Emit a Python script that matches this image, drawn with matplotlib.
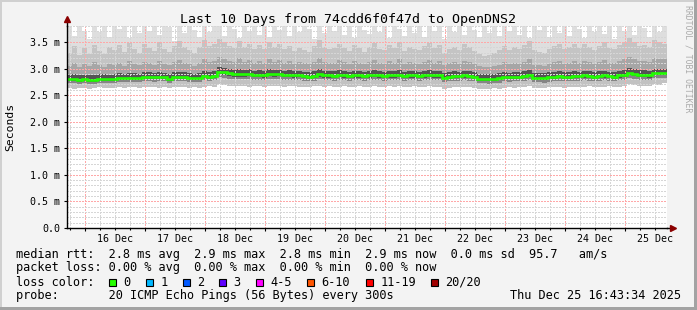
import datetime
import matplotlib
matplotlib.use("Agg")
import matplotlib.pyplot as plt
import matplotlib.dates as mdates
from matplotlib.ticker import MultipleLocator, FuncFormatter, NullFormatter
from matplotlib.patches import Rectangle

# ---------------- data (milliseconds, 2-hour bins) ----------------
start_time = datetime.datetime(2025, 12, 15, 16, 43, 34)
bin_hours = 2

median_rtt = [
    2.80, 2.80, 2.79, 2.80, 2.78, 2.79, 2.80, 2.81, 2.80, 2.81, 2.83, 2.82, 2.83, 2.83, 2.82, 2.84, 2.85, 2.84, 2.85, 2.84,
    2.80, 2.84, 2.85, 2.85, 2.83, 2.82, 2.83, 2.86, 2.85, 2.86, 2.94, 2.93, 2.91, 2.90, 2.90, 2.89, 2.90, 2.88, 2.88, 2.87,
    2.90, 2.89, 2.90, 2.88, 2.88, 2.87, 2.88, 2.86, 2.85, 2.86, 2.90, 2.87, 2.87, 2.86, 2.88, 2.87, 2.86, 2.87, 2.87, 2.86,
    2.87, 2.88, 2.87, 2.86, 2.87, 2.87, 2.88, 2.86, 2.87, 2.87, 2.86, 2.87, 2.88, 2.87, 2.87, 2.83, 2.85, 2.86, 2.86, 2.87,
    2.86, 2.85, 2.81, 2.81, 2.80, 2.81, 2.82, 2.85, 2.84, 2.85, 2.85, 2.86, 2.88, 2.83, 2.83, 2.82, 2.84, 2.85, 2.86, 2.85,
    2.85, 2.86, 2.86, 2.87, 2.86, 2.85, 2.86, 2.87, 2.86, 2.85, 2.87, 2.88, 2.92, 2.90, 2.88, 2.88, 2.87, 2.91, 2.91, 2.91,
]

smoke_min = [
    2.63, 2.62, 2.64, 2.63, 2.62, 2.63, 2.65, 2.64, 2.63, 2.64, 2.65, 2.64, 2.66, 2.65, 2.64, 2.65, 2.66, 2.65, 2.64, 2.66,
    2.63, 2.65, 2.66, 2.65, 2.64, 2.65, 2.64, 2.66, 2.67, 2.66, 2.70, 2.69, 2.68, 2.67, 2.68, 2.67, 2.66, 2.67, 2.68, 2.66,
    2.67, 2.68, 2.67, 2.66, 2.68, 2.67, 2.66, 2.65, 2.66, 2.67, 2.68, 2.66, 2.67, 2.66, 2.65, 2.67, 2.66, 2.65, 2.67, 2.66,
    2.66, 2.67, 2.65, 2.66, 2.67, 2.66, 2.68, 2.66, 2.65, 2.67, 2.66, 2.65, 2.67, 2.66, 2.65, 2.62, 2.64, 2.66, 2.65, 2.66,
    2.65, 2.64, 2.62, 2.61, 2.62, 2.63, 2.62, 2.64, 2.65, 2.64, 2.65, 2.66, 2.67, 2.63, 2.64, 2.63, 2.65, 2.66, 2.65, 2.64,
    2.65, 2.66, 2.65, 2.66, 2.67, 2.66, 2.65, 2.66, 2.67, 2.65, 2.66, 2.67, 2.70, 2.69, 2.67, 2.68, 2.67, 2.70, 2.69, 2.72,
]

smoke_p10 = [
    2.72, 2.72, 2.71, 2.72, 2.70, 2.71, 2.72, 2.73, 2.72, 2.73, 2.75, 2.74, 2.75, 2.74, 2.74, 2.76, 2.76, 2.75, 2.77, 2.76,
    2.72, 2.76, 2.77, 2.76, 2.75, 2.74, 2.75, 2.78, 2.77, 2.78, 2.84, 2.83, 2.81, 2.80, 2.80, 2.80, 2.81, 2.79, 2.79, 2.78,
    2.81, 2.80, 2.81, 2.79, 2.79, 2.78, 2.79, 2.77, 2.76, 2.77, 2.80, 2.78, 2.78, 2.77, 2.79, 2.78, 2.77, 2.78, 2.78, 2.77,
    2.78, 2.79, 2.78, 2.77, 2.78, 2.78, 2.79, 2.77, 2.78, 2.78, 2.77, 2.78, 2.79, 2.78, 2.78, 2.74, 2.76, 2.77, 2.77, 2.78,
    2.77, 2.76, 2.72, 2.72, 2.71, 2.72, 2.73, 2.76, 2.75, 2.76, 2.76, 2.77, 2.79, 2.74, 2.74, 2.73, 2.75, 2.76, 2.77, 2.76,
    2.76, 2.77, 2.77, 2.78, 2.77, 2.76, 2.77, 2.78, 2.77, 2.76, 2.78, 2.79, 2.83, 2.81, 2.79, 2.79, 2.78, 2.82, 2.82, 2.82,
]

smoke_p25 = [
    2.76, 2.76, 2.75, 2.76, 2.74, 2.75, 2.76, 2.77, 2.76, 2.77, 2.79, 2.78, 2.79, 2.79, 2.78, 2.80, 2.81, 2.80, 2.81, 2.80,
    2.76, 2.80, 2.81, 2.81, 2.79, 2.78, 2.79, 2.82, 2.81, 2.82, 2.89, 2.88, 2.86, 2.85, 2.85, 2.85, 2.86, 2.84, 2.84, 2.83,
    2.86, 2.85, 2.86, 2.84, 2.84, 2.83, 2.84, 2.82, 2.81, 2.82, 2.85, 2.83, 2.83, 2.82, 2.84, 2.83, 2.82, 2.83, 2.83, 2.82,
    2.83, 2.84, 2.83, 2.82, 2.83, 2.83, 2.84, 2.82, 2.83, 2.83, 2.82, 2.83, 2.84, 2.83, 2.83, 2.79, 2.81, 2.82, 2.82, 2.83,
    2.82, 2.81, 2.77, 2.77, 2.76, 2.77, 2.78, 2.81, 2.80, 2.81, 2.81, 2.82, 2.84, 2.79, 2.79, 2.78, 2.80, 2.81, 2.82, 2.81,
    2.81, 2.82, 2.82, 2.83, 2.82, 2.81, 2.82, 2.83, 2.82, 2.81, 2.83, 2.84, 2.88, 2.86, 2.84, 2.84, 2.83, 2.87, 2.87, 2.87,
]

smoke_p75 = [
    2.88, 2.89, 2.87, 2.88, 2.87, 2.88, 2.89, 2.89, 2.88, 2.90, 2.91, 2.90, 2.92, 2.91, 2.90, 2.93, 2.93, 2.92, 2.94, 2.92,
    2.89, 2.93, 2.94, 2.93, 2.92, 2.90, 2.91, 2.95, 2.94, 2.95, 3.03, 3.01, 2.99, 2.98, 2.99, 2.97, 2.99, 2.96, 2.97, 2.95,
    2.99, 2.97, 2.98, 2.96, 2.97, 2.95, 2.96, 2.94, 2.93, 2.95, 2.99, 2.96, 2.95, 2.95, 2.97, 2.95, 2.94, 2.96, 2.95, 2.94,
    2.96, 2.97, 2.95, 2.94, 2.96, 2.95, 2.97, 2.94, 2.96, 2.95, 2.94, 2.96, 2.97, 2.95, 2.96, 2.92, 2.94, 2.95, 2.94, 2.96,
    2.95, 2.93, 2.90, 2.89, 2.89, 2.90, 2.91, 2.94, 2.92, 2.94, 2.93, 2.95, 2.97, 2.92, 2.91, 2.91, 2.93, 2.94, 2.95, 2.93,
    2.94, 2.95, 2.94, 2.96, 2.95, 2.93, 2.95, 2.96, 2.94, 2.94, 2.96, 2.97, 3.01, 2.99, 2.97, 2.97, 2.96, 3.00, 3.00, 3.00,
]

smoke_p90 = [
    3.05, 3.10, 3.02, 3.08, 3.04, 3.12, 3.06, 3.03, 3.09, 3.07, 3.11, 3.05, 3.14, 3.08, 3.06, 3.13, 3.10, 3.07, 3.15, 3.09,
    3.06, 3.12, 3.16, 3.10, 3.08, 3.05, 3.11, 3.17, 3.12, 3.15, 3.22, 3.18, 3.14, 3.12, 3.19, 3.13, 3.16, 3.11, 3.15, 3.10,
    3.18, 3.13, 3.16, 3.11, 3.14, 3.09, 3.12, 3.10, 3.08, 3.13, 3.19, 3.12, 3.10, 3.11, 3.16, 3.12, 3.09, 3.14, 3.11, 3.08,
    3.13, 3.16, 3.10, 3.09, 3.14, 3.11, 3.17, 3.08, 3.12, 3.10, 3.09, 3.13, 3.16, 3.11, 3.14, 3.06, 3.10, 3.12, 3.09, 3.15,
    3.12, 3.08, 3.04, 3.02, 3.03, 3.05, 3.07, 3.12, 3.08, 3.11, 3.09, 3.13, 3.17, 3.07, 3.06, 3.05, 3.09, 3.12, 3.14, 3.09,
    3.11, 3.14, 3.10, 3.15, 3.12, 3.08, 3.13, 3.16, 3.11, 3.10, 3.14, 3.17, 3.22, 3.18, 3.14, 3.15, 3.12, 3.20, 3.18, 3.17,
]

smoke_p95 = [
    3.30, 3.42, 3.25, 3.38, 3.28, 3.45, 3.33, 3.27, 3.40, 3.35, 3.44, 3.31, 3.48, 3.36, 3.30, 3.46, 3.39, 3.33, 3.50, 3.37,
    3.32, 3.43, 3.52, 3.40, 3.35, 3.29, 3.41, 3.53, 3.42, 3.47, 3.55, 3.49, 3.43, 3.38, 3.51, 3.40, 3.46, 3.37, 3.44, 3.36,
    3.50, 3.41, 3.47, 3.36, 3.42, 3.33, 3.39, 3.35, 3.31, 3.42, 3.54, 3.40, 3.36, 3.38, 3.47, 3.39, 3.33, 3.44, 3.38, 3.32,
    3.41, 3.48, 3.36, 3.34, 3.45, 3.38, 3.50, 3.33, 3.40, 3.36, 3.34, 3.42, 3.48, 3.38, 3.44, 3.30, 3.37, 3.41, 3.35, 3.46,
    3.40, 3.33, 3.27, 3.24, 3.26, 3.30, 3.34, 3.43, 3.35, 3.41, 3.37, 3.44, 3.51, 3.34, 3.31, 3.29, 3.37, 3.42, 3.46, 3.36,
    3.40, 3.46, 3.38, 3.47, 3.41, 3.34, 3.43, 3.49, 3.39, 3.37, 3.45, 3.50, 3.58, 3.49, 3.43, 3.45, 3.40, 3.54, 3.50, 3.47,
]

smoke_max = [
    3.90, 3.62, 3.85, 3.70, 3.55, 3.90, 3.68, 3.88, 3.60, 3.92, 3.74, 3.86, 3.58, 3.90, 3.66, 3.84, 3.71, 3.95, 3.63, 3.87,
    3.78, 3.52, 3.89, 3.67, 3.91, 3.73, 3.60, 3.88, 3.69, 3.93, 3.85, 3.62, 3.90, 3.75, 3.57, 3.88, 3.70, 3.92, 3.64, 3.86,
    3.59, 3.90, 3.72, 3.87, 3.61, 3.94, 3.68, 3.85, 3.74, 3.56, 3.89, 3.66, 3.91, 3.70, 3.83, 3.63, 3.90, 3.58, 3.88, 3.72,
    3.65, 3.92, 3.69, 3.86, 3.57, 3.90, 3.74, 3.62, 3.89, 3.67, 3.93, 3.60, 3.84, 3.71, 3.88, 3.55, 3.91, 3.68, 3.86, 3.63,
    3.90, 3.73, 3.59, 3.87, 3.66, 3.92, 3.61, 3.85, 3.70, 3.94, 3.64, 3.88, 3.57, 3.90, 3.72, 3.83, 3.60, 3.89, 3.67, 3.91,
    3.62, 3.86, 3.74, 3.58, 3.90, 3.69, 3.93, 3.65, 3.87, 3.56, 3.91, 3.70, 3.84, 3.63, 3.88, 3.76, 3.59, 3.90, 3.68, 3.86,
]

loss_labels = ["0", "1", "2", "3", "4-5", "6-10", "11-19", "20/20"]
loss_colors = ["#26ff00", "#00b8ff", "#0059ff", "#5e00ff", "#ff00ff", "#ff5500", "#ff0000", "#a10000"]

title_text = "Last 10 Days from 74cdd6f0f47d to OpenDNS2"
legend_rtt = "median rtt:  2.8 ms avg  2.9 ms max  2.8 ms min  2.9 ms now  0.0 ms sd  95.7   am/s"
legend_loss = "packet loss: 0.00 % avg  0.00 % max  0.00 % min  0.00 % now"
probe_text = "probe:       20 ICMP Echo Pings (56 Bytes) every 300s"
stamp_text = "Thu Dec 25 16:43:34 2025"

# ---------------- figure ----------------
W, H = 697, 310
MONO = "DejaVu Sans Mono"
plt.rcParams["font.family"] = MONO
LEG_FS = 8.55

fig = plt.figure(figsize=(W / 100, H / 100), dpi=100, facecolor="#f3f3f3")


def px(x, y):
    return x / W, 1 - y / H


# border (3D-ish frame)
fig.add_artist(Rectangle((0, 1 - 2 / H), 1, 2 / H, transform=fig.transFigure, color="#d0d0d0", lw=0))
fig.add_artist(Rectangle((0, 0), 2 / W, 1, transform=fig.transFigure, color="#d0d0d0", lw=0))
fig.add_artist(Rectangle((0, 0), 1, 3 / H, transform=fig.transFigure, color="#a3a3a3", lw=0))
fig.add_artist(Rectangle((1 - 3 / W, 0), 3 / W, 1, transform=fig.transFigure, color="#a3a3a3", lw=0))

ax_left, ax_right, ax_bottom, ax_top = 67, 667, 228, 26
ax = fig.add_axes([ax_left / W, 1 - ax_bottom / H, (ax_right - ax_left) / W, (ax_bottom - ax_top) / H])
ax.set_facecolor("white")

edges = mdates.date2num([start_time + datetime.timedelta(hours=bin_hours * i) for i in range(len(median_rtt) + 1)])

bands = [
    (smoke_min, smoke_p10, "#c2c2c2"),
    (smoke_p10, smoke_p25, "#858585"),
    (smoke_p25, smoke_p75, "#545454"),
    (smoke_p75, smoke_p90, "#a6a6a6"),
    (smoke_p90, smoke_p95, "#c4c4c4"),
    (smoke_p95, smoke_max, "#dedede"),
]
for lo, hi, c in bands:
    ax.stairs(hi, edges, baseline=lo, fill=True, color=c, lw=0, zorder=1)

ax.stairs(median_rtt, edges, baseline=None, color="#20ff00", lw=1.9, zorder=4)

ax.set_xlim(edges[0], edges[-1])
ax.set_ylim(0, 3.8)

# grids
ax.set_axisbelow(False)
ax.xaxis.set_major_locator(mdates.DayLocator())
ax.xaxis.set_minor_locator(mdates.HourLocator(byhour=[0, 6, 12, 18]))
ax.xaxis.set_major_formatter(NullFormatter())


def xlab(v, pos):
    d = mdates.num2date(v)
    return d.strftime("%d Dec") if d.hour == 12 else ""


ax.xaxis.set_minor_formatter(FuncFormatter(xlab))
ax.yaxis.set_major_locator(MultipleLocator(0.5))
ax.yaxis.set_minor_locator(MultipleLocator(0.1))
ax.yaxis.set_major_formatter(FuncFormatter(lambda v, p: "0.0" if abs(v) < 1e-9 else f"{v:.1f} m"))

ax.grid(which="minor", color="#d6d6d6", lw=1.0, linestyle=(0, (1, 1)),
        antialiased=False, zorder=2.5)
ax.grid(which="major", color="#ffa8a8", lw=1.0, linestyle=(0, (1, 1)),
        antialiased=False, zorder=2.6)

ax.tick_params(axis="x", which="major", length=2.5, width=0.8, direction="out", color="black")
ax.tick_params(axis="x", which="minor", length=1.5, width=0.8, direction="out", color="black",
               labelsize=7.2, pad=2.5)
ax.tick_params(axis="y", which="major", length=2.5, width=0.8, direction="out", color="black",
               labelsize=7.2, pad=2.6)
ax.tick_params(axis="y", which="minor", length=0)

for s in ("top", "right"):
    ax.spines[s].set_visible(False)
for s in ("left", "bottom"):
    ax.spines[s].set_color("black")
    ax.spines[s].set_linewidth(1.0)
    ax.spines[s].set_zorder(5)

# axis extensions + arrows
ax.plot([0, 0], [1, 1 + 5 / 202], transform=ax.transAxes, color="black", lw=1.0, clip_on=False, zorder=5)
ax.plot([1, 1 + 4 / 600], [0, 0], transform=ax.transAxes, color="black", lw=1.0, clip_on=False, zorder=5)
ax.plot([0], [1 + 7 / 202], marker="^", ms=4.2, color="#8b0000", transform=ax.transAxes, clip_on=False, zorder=6)
ax.plot([1 + 6 / 600], [0], marker=">", ms=4.2, color="#8b0000", transform=ax.transAxes, clip_on=False, zorder=6)

# texts
fig.text(*px(348.5, 19), title_text, ha="center", va="center", fontsize=9.5, color="black")
fig.text(*px(10, 127), "Seconds", rotation=90, ha="center", va="center", fontsize=8.2, color="black")
fig.text(*px(688, 5), "RRDTOOL / TOBI OETIKER", rotation=270, ha="center", va="top", fontsize=5.9, color="#aaaaaa")

fig.text(*px(16, 254.7), legend_rtt, ha="left", va="center", fontsize=LEG_FS)
fig.text(*px(16, 268), legend_loss, ha="left", va="center", fontsize=LEG_FS)
fig.text(*px(16, 282), "loss color:", ha="left", va="center", fontsize=LEG_FS)
box_x = [108.7, 145.7, 182.7, 219, 256, 306.7, 366, 431]
for bx, lab, col in zip(box_x, loss_labels, loss_colors):
    fig.add_artist(Rectangle(px(bx, 285.5), 7 / W, 7 / H, transform=fig.transFigure,
                             facecolor=col, edgecolor="black", lw=0.8))
    fig.text(*px(bx + 14.5, 282), lab, ha="left", va="center", fontsize=LEG_FS)
fig.text(*px(16, 295.5), probe_text, ha="left", va="center", fontsize=LEG_FS)
fig.text(*px(681, 295.5), stamp_text, ha="right", va="center", fontsize=LEG_FS)

fig.savefig("out.png", dpi=100, facecolor=fig.get_facecolor())
